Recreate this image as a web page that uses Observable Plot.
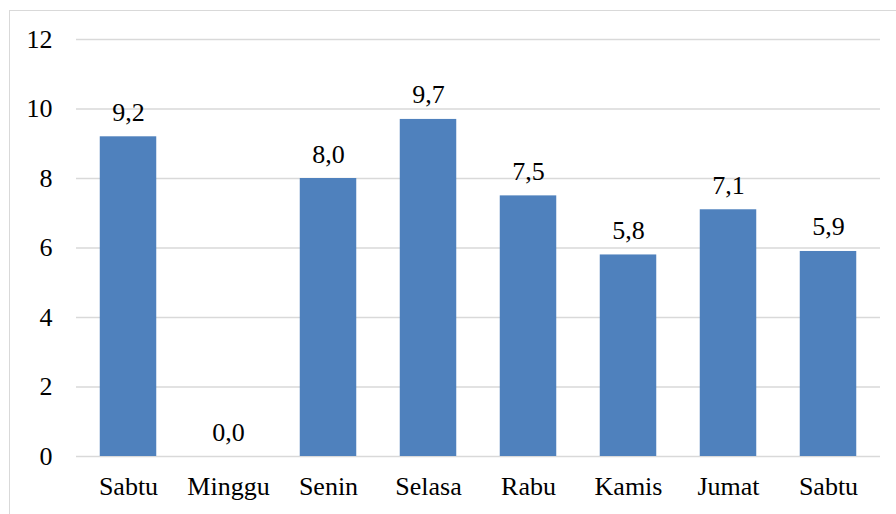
<!DOCTYPE html>
<html>
<head>
<meta charset="utf-8">
<script src="https://cdn.jsdelivr.net/npm/d3@7"></script>
<script src="https://cdn.jsdelivr.net/npm/@observablehq/plot@0.6"></script>
<style>
  html, body { margin: 0; padding: 0; background: #fff; }
  #wrap { position: relative; width: 896px; height: 514px; overflow: hidden; }
  #frame { position: absolute; left: 9px; top: 10px; width: 900px; height: 520px; border: 1px solid #d9d9d9; box-sizing: border-box; }
  #chart { position: absolute; left: 0; top: 0; }
  #chart svg, #chart svg text { font-family: "Liberation Serif", "Times New Roman", Times, Tinos, "DejaVu Serif", serif !important; }
</style>
</head>
<body>
<div id="wrap"><div id="frame"></div><div id="chart"></div></div>
<script>
const days = ["Sabtu", "Minggu", "Senin", "Selasa", "Rabu", "Kamis", "Jumat", "Sabtu"];
const values = [9.2, 0.0, 8.0, 9.7, 7.5, 5.8, 7.1, 5.9];
const yTicks = [0, 2, 4, 6, 8, 10, 12];

const data = days.map((d, i) => ({key: i, day: d, value: values[i]}));
const fmt = v => d3.format(".1f")(v).replace(".", ",");
const serif = "'Liberation Serif', 'Times New Roman', Times, Tinos, 'DejaVu Serif', serif";

const chart = Plot.plot({
  width: 896,
  height: 514,
  marginLeft: 76,
  marginRight: 16,
  marginTop: 39,
  marginBottom: 58,
  style: {fontFamily: serif, fontSize: "26px", color: "#000", background: "transparent"},
  x: {domain: data.map(d => d.key), padding: 0, tickFormat: i => days[i], tickSize: 0, tickPadding: 20, label: null},
  y: {domain: [0, 12], ticks: yTicks, tickSize: 0, tickPadding: 24, label: null},
  marks: [
    Plot.ruleY(yTicks, {stroke: "#d9d9d9", strokeWidth: 1.3}),
    Plot.barY(data, {x: "key", y: "value", fill: "#4f81bd", insetLeft: 21.75, insetRight: 21.75}),
    Plot.text(data, {x: "key", y: "value", text: d => fmt(d.value), lineAnchor: "bottom", dy: -16, fill: "#000", fontSize: 26, fontFamily: serif}),
    Plot.axisX({tickSize: 0, tickPadding: 20, tickFormat: i => days[i], label: null, fill: "#000", fontSize: 26, fontFamily: serif}),
    Plot.axisY({ticks: yTicks, tickSize: 0, tickPadding: 24, label: null, fill: "#000", fontSize: 26, fontFamily: serif})
  ]
});
document.getElementById("chart").appendChild(chart);
</script>
</body>
</html>
